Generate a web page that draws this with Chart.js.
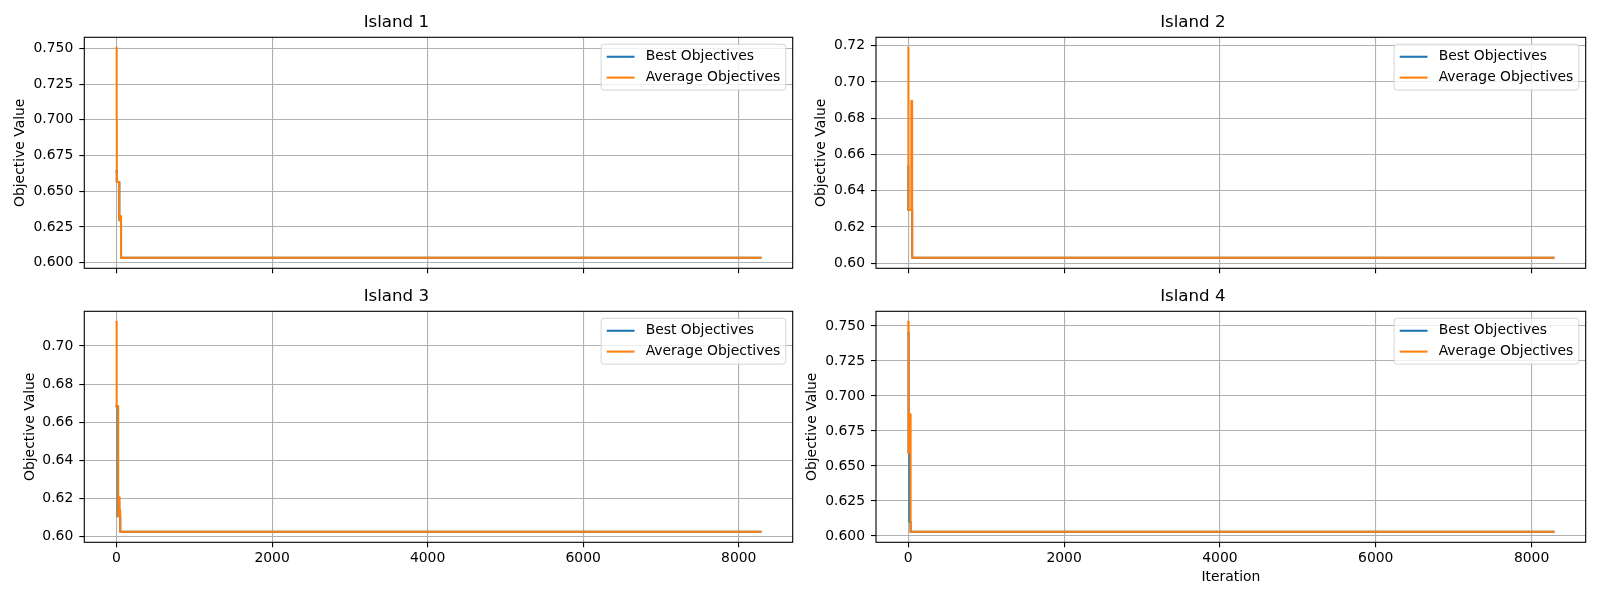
<!DOCTYPE html>
<html>
<head>
<meta charset="utf-8">
<script src="https://cdn.jsdelivr.net/npm/chart.js@4.4.0/dist/chart.umd.min.js"></script>
<style>
  html, body { margin: 0; padding: 0; background: #fff; }
  body { width: 1600px; height: 600px; position: relative; overflow: hidden; }
  .panel { position: absolute; width: 800px; }
  .top { top: 0; height: 300px; }
  .bottom { top: 270px; height: 330px; }
  .left { left: 0; }
  .right { left: 800px; }
</style>
</head>
<body>
<div class="panel top left"><canvas id="island1"></canvas></div>
<div class="panel top right"><canvas id="island2"></canvas></div>
<div class="panel bottom left"><canvas id="island3"></canvas></div>
<div class="panel bottom right"><canvas id="island4"></canvas></div>
<script>
// iterations where the value changes, and the value from there on
const xTicks = [0, 2000, 4000, 6000, 8000];

const island1BestIter = [0, 4, 36, 58, 8280];
const island1BestVal  = [0.6640, 0.6565, 0.6297, 0.6034, 0.6034];
const island1AvgIter  = [0, 2, 4, 36, 48, 58, 8280];
const island1AvgVal   = [0.7504, 0.7000, 0.6565, 0.6297, 0.6327, 0.6034, 0.6034];

const island2BestIter = [0, 1, 50, 8280];
const island2BestVal  = [0.6533, 0.6294, 0.6030, 0.6030];
const island2AvgIter  = [0, 2, 40, 50, 8280];
const island2AvgVal   = [0.7188, 0.6294, 0.6895, 0.6030, 0.6030];

const island3BestIter = [0, 14, 48, 8280];
const island3BestVal  = [0.6685, 0.6108, 0.6026, 0.6026];
const island3AvgIter  = [0, 2, 22, 32, 40, 48, 8280];
const island3AvgVal   = [0.7127, 0.6685, 0.6108, 0.6207, 0.6140, 0.6026, 0.6026];

const island4BestIter = [0, 4, 14, 30, 8280];
const island4BestVal  = [0.7448, 0.6595, 0.6102, 0.6030, 0.6030];
const island4AvgIter  = [0, 1, 2, 4, 12, 18, 22, 30, 8280];
const island4AvgVal   = [0.7530, 0.7448, 0.7530, 0.6595, 0.6869, 0.6620, 0.6869, 0.6030, 0.6030];

const yTicks1 = [0.600, 0.625, 0.650, 0.675, 0.700, 0.725, 0.750];
const yLabels1 = ['0.600', '0.625', '0.650', '0.675', '0.700', '0.725', '0.750'];
const yTicks2 = [0.60, 0.62, 0.64, 0.66, 0.68, 0.70, 0.72];
const yLabels2 = ['0.60', '0.62', '0.64', '0.66', '0.68', '0.70', '0.72'];
const yTicks3 = [0.60, 0.62, 0.64, 0.66, 0.68, 0.70];
const yLabels3 = ['0.60', '0.62', '0.64', '0.66', '0.68', '0.70'];
const yTicks4 = [0.600, 0.625, 0.650, 0.675, 0.700, 0.725, 0.750];
const yLabels4 = ['0.600', '0.625', '0.650', '0.675', '0.700', '0.725', '0.750'];

Chart.defaults.font.family = '"DejaVu Sans", sans-serif';
Chart.defaults.color = '#000';

const FS = 13.9;
const BLUE = '#1f77b4';
const ORANGE = '#ff7f0e';

// matplotlib style: 5% margin round the data
function withMargin(lists) {
  const all = [].concat(...lists);
  const lo = Math.min(...all), hi = Math.max(...all);
  const m = (hi - lo) * 0.05;
  return [lo - m, hi + m];
}

const spines = {
  id: 'spines',
  afterDatasetsDraw(chart) {
    const a = chart.chartArea, ctx = chart.ctx;
    ctx.save();
    ctx.strokeStyle = '#000';
    ctx.lineWidth = 1.1;
    ctx.strokeRect(a.left, a.top, a.right - a.left, a.bottom - a.top);
    ctx.restore();
  }
};

const boxLegend = {
  id: 'boxLegend',
  afterDraw(chart) {
    const a = chart.chartArea, ctx = chart.ctx;
    const sets = chart.data.datasets;
    ctx.save();
    ctx.font = FS + 'px "DejaVu Sans"';
    const textW = Math.max(...sets.map(d => ctx.measureText(d.label).width));
    const w = 0.8 * FS + 2 * FS + 0.8 * FS + textW;
    const h = 0.8 * FS + sets.length * FS + (sets.length - 1) * 0.5 * FS;
    const x0 = a.right - 0.5 * FS - w;
    const y0 = a.top + 0.5 * FS;
    const r = 0.2 * FS;
    ctx.beginPath();
    ctx.moveTo(x0 + r, y0);
    ctx.arcTo(x0 + w, y0, x0 + w, y0 + h, r);
    ctx.arcTo(x0 + w, y0 + h, x0, y0 + h, r);
    ctx.arcTo(x0, y0 + h, x0, y0, r);
    ctx.arcTo(x0, y0, x0 + w, y0, r);
    ctx.closePath();
    ctx.fillStyle = 'rgba(255,255,255,0.8)';
    ctx.fill();
    ctx.strokeStyle = 'rgba(204,204,204,0.8)';
    ctx.lineWidth = 1;
    ctx.stroke();
    sets.forEach((d, i) => {
      const cy = y0 + 0.4 * FS + FS / 2 + i * 1.5 * FS;
      ctx.strokeStyle = d.borderColor;
      ctx.lineWidth = 2.08;
      ctx.beginPath();
      ctx.moveTo(x0 + 0.4 * FS, cy);
      ctx.lineTo(x0 + 2.4 * FS, cy);
      ctx.stroke();
      ctx.fillStyle = '#000';
      ctx.textBaseline = 'middle';
      ctx.textAlign = 'left';
      ctx.fillText(d.label, x0 + 3.2 * FS, cy);
    });
    ctx.restore();
  }
};

function points(iters, vals) {
  return iters.map((x, i) => ({ x: x, y: vals[i] }));
}

function makeIsland(id, title, bestIter, bestVal, avgIter, avgVal, yTicks, yLabels, cfg) {
  const xr = withMargin([bestIter, avgIter]);
  const yr = withMargin([bestVal, avgVal]);
  new Chart(document.getElementById(id), {
    type: 'line',
    data: {
      datasets: [
        { label: 'Best Objectives', data: points(bestIter, bestVal), borderColor: BLUE, order: 1 },
        { label: 'Average Objectives', data: points(avgIter, avgVal), borderColor: ORANGE, order: 0 }
      ]
    },
    options: {
      responsive: true,
      maintainAspectRatio: false,
      animation: false,
      events: [],
      layout: { padding: { left: 0, right: cfg.padRight, top: 0, bottom: 0 } },
      elements: {
        line: { borderWidth: 2.08, stepped: true, fill: false, tension: 0,
                borderCapStyle: 'square', borderJoinStyle: 'round' },
        point: { radius: 0 }
      },
      plugins: {
        legend: { display: false },
        tooltip: { enabled: false },
        title: {
          display: true,
          text: title,
          color: '#000',
          font: { size: 16.67, weight: 'normal', lineHeight: 1.2 },
          padding: { top: cfg.titleTop, bottom: 4.6 }
        }
      },
      scales: {
        x: {
          type: 'linear',
          min: xr[0],
          max: xr[1],
          afterBuildTicks: s => { s.ticks = xTicks.map(v => ({ value: v })); },
          afterFit: s => { s.height = cfg.xHeight; },
          grid: { color: '#b0b0b0', lineWidth: 1.1, tickColor: '#000', tickLength: 5, tickWidth: 1.1 },
          border: { display: false },
          ticks: {
            display: cfg.xLabels,
            padding: 3,
            font: { size: FS },
            maxRotation: 0,
            callback: v => String(v)
          },
          title: {
            display: cfg.xTitle,
            text: 'Iteration',
            font: { size: FS },
            padding: { top: 0, bottom: 14.6 }
          }
        },
        y: {
          type: 'linear',
          min: yr[0],
          max: yr[1],
          afterBuildTicks: s => { s.ticks = yTicks.map(v => ({ value: v })); },
          afterFit: s => { s.width = cfg.yWidth; },
          grid: { color: '#b0b0b0', lineWidth: 1.1, tickColor: '#000', tickLength: 5, tickWidth: 1.1 },
          border: { display: false },
          ticks: {
            padding: 6,
            font: { size: FS },
            callback: (v, i) => yLabels[i]
          },
          title: {
            display: true,
            text: 'Objective Value',
            font: { size: FS },
            padding: { top: cfg.yTitleTop, bottom: 0 }
          }
        }
      }
    },
    plugins: [spines, boxLegend]
  });
}

makeIsland('island1', 'Island 1', island1BestIter, island1BestVal, island1AvgIter, island1AvgVal,
  yTicks1, yLabels1,
  { padRight: 7.3, yWidth: 84.3, yTitleTop: 12.2, titleTop: 12.7, xHeight: 31.7, xLabels: false, xTitle: false });
makeIsland('island2', 'Island 2', island2BestIter, island2BestVal, island2AvgIter, island2AvgVal,
  yTicks2, yLabels2,
  { padRight: 14.3, yWidth: 76, yTitleTop: 13.3, titleTop: 12.7, xHeight: 31.7, xLabels: false, xTitle: false });
makeIsland('island3', 'Island 3', island3BestIter, island3BestVal, island3AvgIter, island3AvgVal,
  yTicks3, yLabels3,
  { padRight: 7.3, yWidth: 84.3, yTitleTop: 21.6, titleTop: 16.7, xHeight: 57.7, xLabels: true, xTitle: false });
makeIsland('island4', 'Island 4', island4BestIter, island4BestVal, island4AvgIter, island4AvgVal,
  yTicks4, yLabels4,
  { padRight: 14.3, yWidth: 76, yTitleTop: 4.4, titleTop: 16.7, xHeight: 57.7, xLabels: true, xTitle: true });
</script>
</body>
</html>
